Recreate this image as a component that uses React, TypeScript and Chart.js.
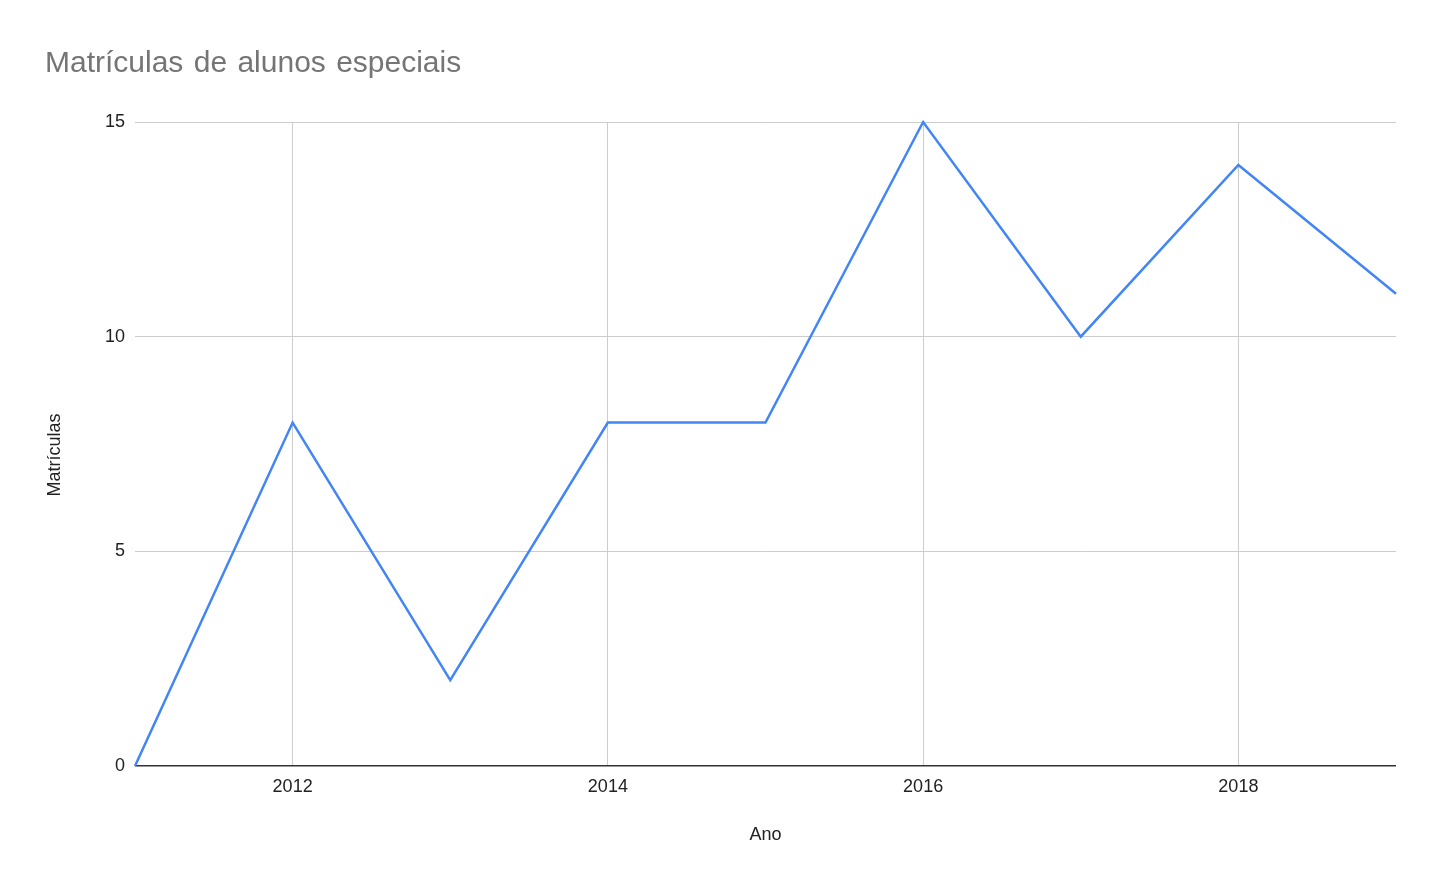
import React, { useEffect, useRef } from "react";
import { Chart, registerables } from "chart.js";

Chart.register(...registerables);

const years = [2011, 2012, 2013, 2014, 2015, 2016, 2017, 2018, 2019];
const matriculas = [0, 8, 2, 8, 8, 15, 10, 14, 11];
const xTickValues = [2012, 2014, 2016, 2018];
const yTickValues = [0, 5, 10, 15];

const chartTitle = "Matrículas de alunos especiais";
const xAxisTitle = "Ano";
const yAxisTitle = "Matrículas";

const FONT = "'Liberation Sans', Arial, Helvetica, sans-serif";

const textPlugin = {
  id: "customTexts",
  afterDraw(chart: any) {
    const { ctx, chartArea } = chart;
    ctx.save();
    ctx.fillStyle = "#757575";
    ctx.font = `30px ${FONT}`;
    try {
      (ctx as any).wordSpacing = "2px";
    } catch (e) {}
    ctx.textAlign = "left";
    ctx.textBaseline = "alphabetic";
    ctx.fillText(chartTitle, 45, 72);
    try {
      (ctx as any).wordSpacing = "0px";
    } catch (e) {}

    ctx.fillStyle = "#222222";
    ctx.font = `18px ${FONT}`;
    ctx.textAlign = "center";
    ctx.textBaseline = "middle";
    ctx.fillText(xAxisTitle, (chartArea.left + chartArea.right) / 2, 835);

    ctx.translate(55, 455);
    ctx.rotate(-Math.PI / 2);
    ctx.fillText(yAxisTitle, 0, 0);
    ctx.restore();
  },
};

export default function App() {
  const ref = useRef<HTMLCanvasElement | null>(null);

  useEffect(() => {
    if (!ref.current) return;
    const chart = new Chart(ref.current, {
      type: "line",
      data: {
        datasets: [
          {
            label: yAxisTitle,
            data: years.map((y, i) => ({ x: y, y: matriculas[i] })),
            borderColor: "#4285F4",
            backgroundColor: "#4285F4",
            borderWidth: 2.5,
            pointRadius: 0,
            pointHoverRadius: 0,
            tension: 0,
            clip: false as any,
          },
        ],
      },
      options: {
        responsive: false,
        animation: false,
        devicePixelRatio: 1,
        layout: { padding: { top: 122, right: 44, left: 0, bottom: 0 } },
        plugins: {
          legend: { display: false },
          title: { display: false },
          tooltip: { enabled: false },
        },
        scales: {
          x: {
            type: "linear",
            min: years[0],
            max: years[years.length - 1],
            afterBuildTicks: (scale: any) => {
              scale.ticks = xTickValues.map((v) => ({ value: v }));
            },
            afterFit: (scale: any) => {
              scale.height = 124;
            },
            border: { display: false },
            grid: {
              color: "#cccccc",
              lineWidth: 1,
              drawTicks: false,
            },
            ticks: {
              padding: 10,
              color: "#222222",
              font: { size: 18, family: FONT },
              callback: (v: any) => String(v),
              maxRotation: 0,
            },
          },
          y: {
            min: 0,
            max: 15,
            afterBuildTicks: (scale: any) => {
              scale.ticks = yTickValues.map((v) => ({ value: v }));
            },
            afterFit: (scale: any) => {
              scale.width = 135;
            },
            border: { display: false },
            grid: {
              color: (c: any) => (c.tick && c.tick.value === 0 ? "#333333" : "#cccccc"),
              lineWidth: (c: any) => (c.tick && c.tick.value === 0 ? 1.5 : 1),
              drawTicks: false,
            },
            ticks: {
              padding: 10,
              color: "#222222",
              font: { size: 18, family: FONT },
            },
          },
        },
      },
      plugins: [textPlugin],
    });
    return () => chart.destroy();
  }, []);

  return (
    <div style={{ position: "fixed", left: 0, top: 0, width: 1440, height: 890, background: "#ffffff" }}>
      <canvas ref={ref} width={1440} height={890} />
    </div>
  );
}
